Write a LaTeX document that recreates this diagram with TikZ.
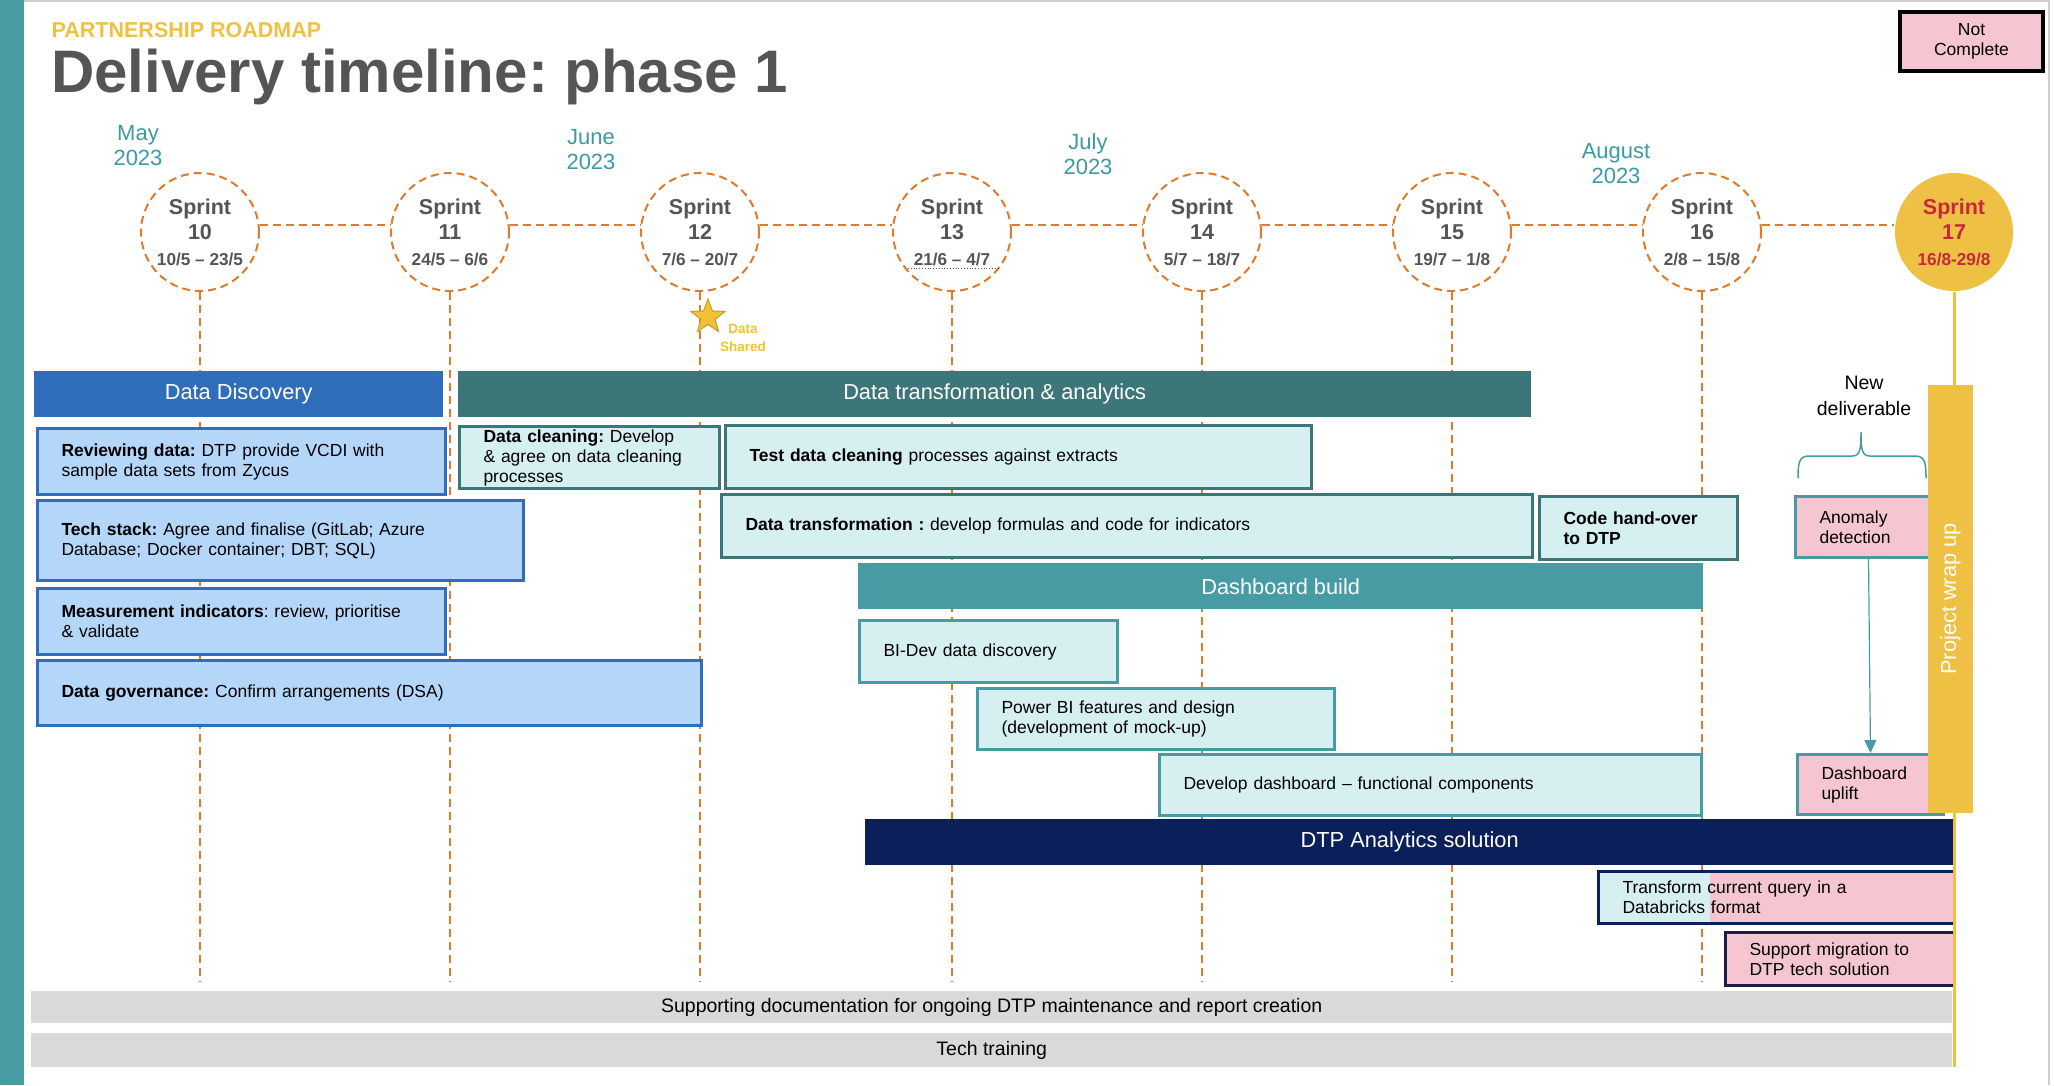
\documentclass[tikz,border=0pt]{standalone}
\usepackage{fontspec}
\setmainfont{Liberation Sans}
\usetikzlibrary{shapes.geometric,arrows.meta}
\frenchspacing

\definecolor{roadteal}{HTML}{479BA3}
\definecolor{darkteal}{HTML}{3D7679}
\definecolor{discblue}{HTML}{2F6EBA}
\definecolor{lightblue}{HTML}{B4D7F9}
\definecolor{lightcyan}{HTML}{D6EFF0}
\definecolor{dtpnavy}{HTML}{0B1F5A}
\definecolor{supnavy}{HTML}{1E1A4A}
\definecolor{notpink}{HTML}{F5C6D2}
\definecolor{wrapyellow}{HTML}{EEC043}
\definecolor{staryellow}{HTML}{F2C232}
\definecolor{starline}{HTML}{C89B28}
\definecolor{sprintorange}{HTML}{E07B2A}
\definecolor{sprintgrey}{HTML}{555555}
\definecolor{sprintred}{HTML}{C8283C}
\definecolor{monthteal}{HTML}{3B9AA3}
\definecolor{bargrey}{HTML}{D9D9D9}
\definecolor{framegrey}{HTML}{CFCFCF}

\newcommand{\fTitle}{\fontsize{60}{60}\selectfont\bfseries}
\newcommand{\fKicker}{\fontsize{21.5}{22}\selectfont\bfseries}
\newcommand{\fMonth}{\fontsize{22}{25}\selectfont}
\newcommand{\fSprint}{\fontsize{21.5}{25.5}\selectfont\bfseries}
\newcommand{\fDate}{\fontsize{17.2}{20}\selectfont\bfseries}
\newcommand{\fHead}{\fontsize{21.8}{24}\selectfont}
\newcommand{\fTask}{\fontsize{17.5}{20}\selectfont}
\newcommand{\fNew}{\fontsize{19.5}{26}\selectfont}
\newcommand{\fBar}{\fontsize{19.5}{22}\selectfont}
\newcommand{\fStar}{\fontsize{13.5}{18}\selectfont\bfseries}

\begin{document}
\begin{tikzpicture}[x=1pt, y=-1pt]
        \tikzstyle{sprint}=[circle, draw=sprintorange, line width=2pt, dash pattern=on 8pt off 5pt, fill=white, minimum size=118pt, inner sep=0pt, align=center, font=\fSprint, text=sprintgrey]
        \tikzstyle{dashline}=[sprintorange, line width=2pt, dash pattern=on 8pt off 5pt]
        \tikzstyle{month}=[font=\fMonth, text=monthteal, align=center]
        \tikzstyle{header}=[anchor=north west, minimum height=46pt, inner sep=0pt, text=white, font=\fHead]
        \tikzstyle{task}=[draw, line width=3pt, anchor=north west, inner xsep=24pt, inner ysep=0pt, align=left, font=\fTask]
        \tikzstyle{bar}=[fill=bargrey, anchor=north west, minimum width=1921pt, inner sep=0pt, font=\fBar]

        \useasboundingbox (0,0) rectangle (2054,1085);
        \fill[roadteal] (0,0) rectangle (24,1085);
        \draw[framegrey, line width=2pt] (24,1) -- (2049,1) -- (2049,1085);

% Heading, months and sprints along the top

        \node[anchor=base west, inner sep=0pt, font=\fKicker, text=wrapyellow] (kicker) at (51.5,37) {PARTNERSHIP ROADMAP};
        \node[anchor=base west, inner sep=0pt, font=\fTitle, text=sprintgrey] (title) at (51,92) {Delivery timeline: phase 1};
        \node[draw=black, line width=4pt, fill=notpink, anchor=north west, minimum width=143pt, minimum height=59pt, inner sep=0pt, align=center, font=\fTask] (legend) at (1898,10) {Not\\Complete};

        \node[month] (may) at (138,146) {May\\2023};
        \node[month] (june) at (591,150) {June\\2023};
        \node[month] (july) at (1088,154) {July\\2023};
        \node[month] (august) at (1616,164) {August\\2023};

        \node[sprint] (s10) at (200,232) {Sprint\\10\\{\fDate 10/5 – 23/5}};
        \node[sprint] (s11) at (450,232) {Sprint\\11\\{\fDate 24/5 – 6/6}};
        \node[sprint] (s12) at (700,232) {Sprint\\12\\{\fDate 7/6 – 20/7}};
        \node[sprint] (s13) at (952,232) {Sprint\\13\\{\fDate 21/6 – 4/7}};
        \node[sprint] (s14) at (1202,232) {Sprint\\14\\{\fDate 5/7 – 18/7}};
        \node[sprint] (s15) at (1452,232) {Sprint\\15\\{\fDate 19/7 – 1/8}};
        \node[sprint] (s16) at (1702,232) {Sprint\\16\\{\fDate 2/8 – 15/8}};
        \node[sprint, draw=none, fill=wrapyellow, text=sprintred] (s17) at (1954,232) {Sprint\\17\\{\fDate 16/8-29/8}};
        \draw[sprintgrey, dotted, line width=0.8pt] (908,268) -- (1000,268);

        \coordinate (floor) at (0,982);
        \coordinate (ground) at (0,1067);
        \foreach \a/\b in {10/11,11/12,12/13,13/14,14/15,15/16,16/17}
            \draw[dashline] (s\a.7) -- (s\b.173);
        \foreach \a in {10,...,16}
            \draw[dashline] (s\a.south) -- (s\a.south |- floor);

        \node[star, star points=5, star point ratio=2.4, fill=staryellow, draw=starline, line width=1pt, minimum size=36pt, inner sep=0pt] (star) at (708,317) {};
        \node[font=\fStar, text=staryellow, align=center] (shared) at (743,338) {Data\\Shared};

% Work streams

        \node[header, fill=discblue, minimum width=409pt] (disc) at (34,371) {Data Discovery};
        \node[task, draw=discblue, fill=lightblue, text width=360pt, minimum height=66pt] (review) at (36,427) {\textbf{Reviewing data:} DTP provide VCDI with\\sample data sets from Zycus};
        \node[task, draw=discblue, fill=lightblue, text width=438pt, minimum height=80pt] (stack) at (36,499) {\textbf{Tech stack:} Agree and finalise (GitLab; Azure\\Database; Docker container; DBT; SQL)};
        \node[task, draw=discblue, fill=lightblue, text width=360pt, minimum height=66pt] (measure) at (36,587) {\textbf{Measurement indicators}: review, prioritise\\\& validate};
        \node[task, draw=discblue, fill=lightblue, text width=616pt, minimum height=65pt] (govern) at (36,659) {\textbf{Data governance:} Confirm arrangements (DSA)};

        \node[header, fill=darkteal, minimum width=1073pt] (dta) at (458,371) {Data transformation \& analytics};
        \node[task, draw=darkteal, fill=lightcyan, text width=212pt, minimum height=62pt] (clean) at (458,425) {\textbf{Data cleaning:} Develop\\\& agree on data cleaning\\processes};
        \node[task, draw=darkteal, fill=lightcyan, text width=538pt, minimum height=63pt] (test) at (724,424) {\textbf{Test data cleaning} processes against extracts};
        \node[task, draw=darkteal, fill=lightcyan, text width=763pt, minimum height=63pt] (transf) at (720,493) {\textbf{Data transformation :} develop formulas and code for indicators};
        \node[task, draw=darkteal, fill=lightcyan, text width=150pt, minimum height=63pt, font=\fTask\bfseries] (handover) at (1538,495) {Code hand-over\\to DTP};

        \node[header, fill=roadteal, minimum width=845pt] (dash) at (858,563) {Dashboard build};
        \node[task, draw=roadteal, fill=lightcyan, text width=210pt, minimum height=62pt] (bidev) at (858,619) {BI-Dev data discovery};
        \node[task, draw=roadteal, fill=lightcyan, text width=309pt, minimum height=61pt] (powerbi) at (976,687) {Power BI features and design\\(development of mock-up)};
        \node[task, draw=roadteal, fill=lightcyan, text width=494pt, minimum height=61pt] (develop) at (1158,753) {Develop dashboard – functional components};

        \node[font=\fNew, align=center] (newdel) at (1864,396) {New\\deliverable};
        \draw[roadteal, line width=1.5pt] (1798,478) .. controls (1798,460) and (1800,456) .. (1810,456) -- (1852,456) .. controls (1860,456) and (1861,450) .. (1861,432) .. controls (1861,450) and (1862,456) .. (1870,456) -- (1914,456) .. controls (1924,456) and (1926,460) .. (1926,478);
        \node[task, draw=roadteal, fill=notpink, text width=98pt, minimum height=61pt] (anomaly) at (1794,495) {Anomaly\\detection};
        \node[task, draw=roadteal, fill=notpink, text width=98pt, minimum height=60pt] (uplift) at (1796,753) {Dashboard\\uplift};
        \draw[roadteal, line width=1.2pt, -{Triangle[length=13pt, width=12pt]}] (anomaly.south) -- (uplift.north);

        \node[header, fill=dtpnavy, minimum width=1089pt] (dtp) at (865,819) {DTP Analytics solution};
        \node[task, draw=dtpnavy, fill=notpink, text width=308pt, minimum height=52pt, path picture={\fill[lightcyan] (path picture bounding box.north west) rectangle ([xshift=111pt]path picture bounding box.south west);}] (query) at (1597,870) {Transform current query in a\\Databricks format};
        \node[task, draw=supnavy, fill=notpink, text width=181pt, minimum height=53pt] (migrate) at (1724,931) {Support migration to\\DTP tech solution};

        \node[bar, minimum height=32pt] (docs) at (31,991) {Supporting documentation for ongoing DTP maintenance and report creation};
        \node[bar, minimum height=34pt] (training) at (31,1033) {Tech training};

% Sprint 17 wrap up
        \draw[wrapyellow, line width=3pt] (s17.south) -- (s17.south |- ground);
        \node[fill=wrapyellow, rotate=90, minimum width=428pt, minimum height=45pt, inner sep=0pt, text=white, font=\fHead] (wrap) at (1950.5,599) {Project wrap up};

\end{tikzpicture}
\end{document}
